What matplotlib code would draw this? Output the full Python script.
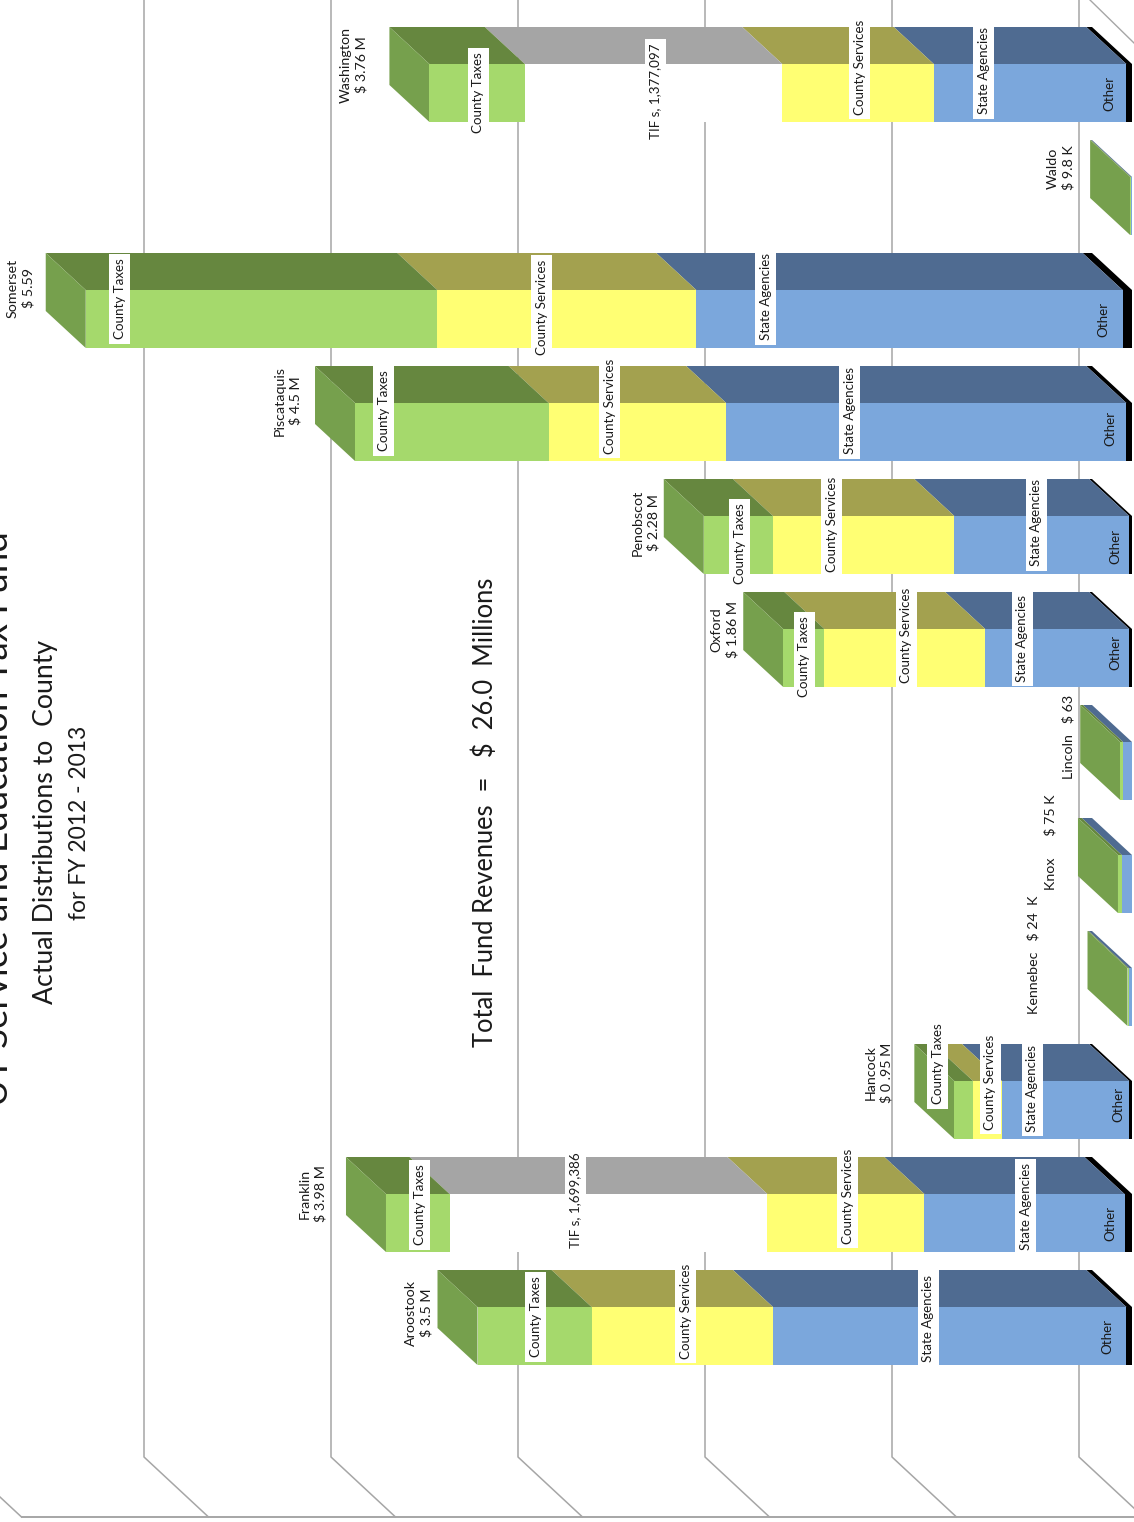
import numpy as np
import matplotlib
matplotlib.use('Agg')
import matplotlib.pyplot as plt
from matplotlib.transforms import Affine2D

plt.rcParams['font.family'] = ['Lato', 'DejaVu Sans']

# values in $ millions, bottom row of the picture first
counties = ['Aroostook', 'Franklin', 'Hancock', 'Kennebec', 'Knox', 'Lincoln',
            'Oxford', 'Penobscot', 'Piscataquis', 'Somerset', 'Waldo', 'Washington']
other = [0.03, 0.04, 0.015, 0.0, 0.0, 0.0, 0.015, 0.015, 0.03, 0.05, 0.0, 0.03]
state_agencies = [1.89, 1.07, 0.68, 0.018, 0.055, 0.048, 0.77, 0.935, 2.14, 2.28, 0.006, 1.03]
county_services = [0.97, 0.84, 0.155, 0.0, 0.0, 0.0, 0.86, 0.97, 0.95, 1.385, 0.0, 0.81]
tifs = [0.0, 1.699386, 0.0, 0.0, 0.0, 0.0, 0.0, 0.0, 0.0, 0.0, 0.0, 1.377097]
county_taxes = [0.61, 0.34, 0.10, 0.006, 0.02, 0.015, 0.22, 0.37, 1.035, 1.88, 0.004, 0.51]

series = [other, state_agencies, county_services, tifs, county_taxes]
front_colors = ['#000000', '#7ba7dc', '#ffff73', '#ffffff', '#a5d96c']
top_colors = ['#000000', '#4f6b91', '#a3a14f', '#a5a5a5', '#66873f']
side_color = '#76a04d'

W, H = 1134, 1522
PX_PER_M = 187.0
PX_PER_ROW = 113.0
ZERO_X = 1132.0
ROW0_Y = 1336.0
DEPTH_X = 40 / PX_PER_M
DEPTH_Y = 37 / PX_PER_ROW
HALF = 29 / PX_PER_ROW


def xv(px):
    return (ZERO_X - px) / PX_PER_M


def yv(px):
    return (ROW0_Y - px) / PX_PER_ROW


fig = plt.figure(figsize=(W / 100, H / 100), dpi=100)
ax = fig.add_axes([0, 0, 1, 1])
ax.set_xlim(xv(0), xv(W))
ax.set_ylim(yv(H), yv(0))
ax.axis('off')

# wall and floor lines
grid_c = '#a6a6a6'
for k in range(-1, 7):
    bx = xv(1079) + k
    fx = xv(1143.5) + k
    ax.plot([bx, bx, fx], [yv(0), yv(1457), yv(1517)], color=grid_c, lw=1.1, zorder=1)
ax.plot([xv(22), xv(W)], [yv(1517), yv(1517)], color=grid_c, lw=1.4, zorder=1)
ax.plot([xv(1090), xv(W)], [yv(0), yv(43)], color=grid_c, lw=1.0, zorder=1)

# bars
rows = np.arange(len(counties))
start = np.zeros(len(counties))
for vals, fc, tc in zip(series, front_colors, top_colors):
    vals = np.array(vals)
    for r, s, v in zip(rows, start, vals):
        if v > 0:
            ax.fill([s, s + v, s + v + DEPTH_X, s + DEPTH_X],
                    [r + HALF, r + HALF, r + HALF + DEPTH_Y, r + HALF + DEPTH_Y],
                    color=tc, lw=0, zorder=2)
    ax.barh(rows, vals, left=start, height=2 * HALF, color=fc, lw=0, zorder=3)
    start = start + vals

for r, s in zip(rows, start):
    ax.fill([s, s + DEPTH_X, s + DEPTH_X, s],
            [r - HALF, r - HALF + DEPTH_Y, r + HALF + DEPTH_Y, r + HALF],
            color=side_color, lw=0, zorder=2)

# text is placed in picture pixels
px = Affine2D().scale(1, -1).translate(0, H)
txt = '#1a1a1a'


def label(x, y, s, size=9.6, box=True, spacing=1.1):
    kw = dict(facecolor='white', edgecolor='none', pad=3.2) if box else None
    ax.text(x + 1.5, y, s, transform=px, rotation=90, ha='center', va='center', fontsize=size,
            color=txt, bbox=kw, zorder=5, linespacing=spacing, multialignment='center')


seg_labels = [
    ('County Taxes', 477, 93), ('TIF s, 1,377,097', 654, 91), ('County Services', 858, 67),
    ('State Agencies', 982, 71),
    ('County Taxes', 118, 299), ('County Services', 540, 307), ('State Agencies', 764, 297),
    ('County Taxes', 382, 411), ('County Services', 608, 406), ('State Agencies', 848, 411),
    ('County Taxes', 738, 544), ('County Services', 830, 524), ('State Agencies', 1035, 523),
    ('County Taxes', 803, 657), ('County Services', 905, 635), ('State Agencies', 1021, 638),
    ('County Taxes', 936, 1064), ('County Services', 989, 1082), ('State Agencies', 1031, 1088),
    ('County Taxes', 418, 1205), ('TIF s, 1,699,386', 574, 1200), ('County Services', 846, 1196),
    ('State Agencies', 1024, 1207),
    ('County Taxes', 534, 1317), ('County Services', 684, 1311), ('State Agencies', 927, 1318),
]
for s, x, y in seg_labels:
    label(x, y, s)

other_labels = [(1108, 93), (1102, 319), (1109, 428), (1114, 546), (1114, 652),
                (1117, 1104), (1109, 1223), (1106, 1336)]
for x, y in other_labels:
    label(x, y, 'Other', box=False)

county_labels = [
    ('Washington\n$ 3.76 M', 352, 65), ('Waldo\n$ 9.8 K', 1059, 168), ('Somerset\n$ 5.59', 19, 288),
    ('Piscataquis\n$ 4.5 M', 286, 401), ('Penobscot\n$ 2.28 M', 644, 523),
    ('Oxford\n$ 1.86 M', 723, 630), ('Lincoln   $ 63', 1067, 737), ('Knox      $ 75 K', 1049, 842),
    ('Kennebec   $ 24  K', 1032, 955), ('Hancock\n$ 0 .95 M', 877, 1073),
    ('Franklin\n$ 3.98 M', 311, 1194), ('Aroostook\n$ 3.5 M', 417, 1313),
]
for s, x, y in county_labels:
    label(x, y, s, size=10.3, box=False, spacing=1.3)

# the title runs off the left edge in the source picture too
ax.text(8, 819, 'UT Service and Education Tax Fund', transform=px, rotation=90, ha='center',
        va='baseline', rotation_mode='anchor', fontsize=26.5, color=txt)
ax.text(53, 822, 'Actual Distributions to  County', transform=px, rotation=90, ha='center',
        va='baseline', rotation_mode='anchor', fontsize=19.2, color=txt)
ax.text(86, 823, 'for FY 2012 - 2013', transform=px, rotation=90, ha='center',
        va='baseline', rotation_mode='anchor', fontsize=16.5, color=txt)
ax.text(493, 812.5, 'Total  Fund Revenues  =   $  26.0  Millions', transform=px, rotation=90, ha='center',
        va='baseline', rotation_mode='anchor', fontsize=18.4, color=txt)

fig.savefig('out.png', dpi=100)
